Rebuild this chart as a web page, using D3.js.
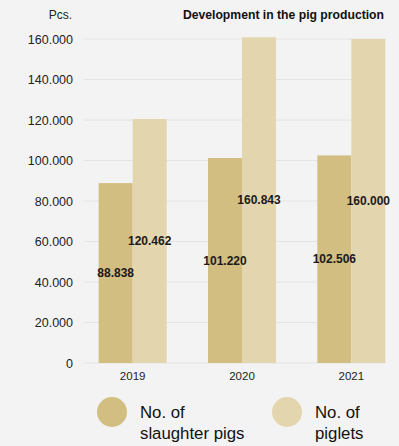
<!DOCTYPE html>
<html>
<head>
<meta charset="utf-8">
<script src="https://cdn.jsdelivr.net/npm/d3@7"></script>
<style>
  html, body { margin: 0; padding: 0; background: #f3f3f3; }
  svg { display: block; font-family: "Liberation Sans", Arial, sans-serif; }
</style>
</head>
<body>
<svg id="chart" width="399" height="446"></svg>
<script>
const years = ["2019", "2020", "2021"];
const slaughterPigs = [88838, 101220, 102506];
const piglets = [120462, 160843, 160000];
const seriesNames = [["No. of", "slaughter pigs"], ["No. of", "piglets"]];
const yTicks = [0, 20000, 40000, 60000, 80000, 100000, 120000, 140000, 160000];
const colors = ["#d1be80", "#e3d6ae"];

const fmt = v => d3.format(",")(v).replace(/,/g, ".");

const svg = d3.select("#chart");
const plotLeft = 84, plotRight = 385, plotTop = 39, plotBottom = 363;

const y = d3.scaleLinear().domain([0, 160000]).range([plotBottom, plotTop]);
const x = d3.scaleBand().domain(years).range([78, 406]).paddingInner(0.378).paddingOuter(0.189);
const sub = d3.scaleBand().domain([0, 1]).range([0, x.bandwidth()]);

// gridlines
svg.append("g").selectAll("line").data(yTicks).join("line")
  .attr("x1", plotLeft).attr("x2", plotRight)
  .attr("y1", d => y(d)).attr("y2", d => y(d))
  .attr("stroke", "#e4e4e4").attr("stroke-width", 1);

// y axis labels
const yAxis = d3.axisLeft(y).tickValues(yTicks).tickSize(0).tickPadding(0).tickFormat(fmt);
svg.append("g").attr("transform", `translate(73,0)`).call(yAxis)
  .call(g => g.select(".domain").remove())
  .call(g => g.selectAll("text").attr("font-size", 12.5).attr("fill", "#222")
    .attr("font-family", "Liberation Sans, Arial, sans-serif"));

// x axis labels
const xAxis = d3.axisBottom(x).tickSize(0).tickPadding(0);
svg.append("g").attr("transform", `translate(0,372)`).call(xAxis)
  .call(g => g.select(".domain").remove())
  .call(g => g.selectAll("text").attr("font-size", 11.5).attr("fill", "#222")
    .attr("font-family", "Liberation Sans, Arial, sans-serif"));

const rows = years.map((yr, i) => ({ year: yr, values: [slaughterPigs[i], piglets[i]] }));

const groups = svg.append("g").selectAll("g").data(rows).join("g")
  .attr("transform", d => `translate(${x(d.year)},0)`);

groups.selectAll("rect").data(d => d.values.map((v, k) => ({ v, k }))).join("rect")
  .attr("x", d => sub(d.k))
  .attr("width", sub.bandwidth())
  .attr("y", d => y(d.v))
  .attr("height", d => y(0) - y(d.v))
  .attr("fill", d => colors[d.k]);

groups.selectAll("text").data(d => d.values.map((v, k) => ({ v, k }))).join("text")
  .attr("x", d => sub(d.k) + sub.bandwidth() / 2)
  .attr("y", d => (y(d.v) + y(0)) / 2)
  .attr("dy", "0.35em")
  .attr("text-anchor", "middle")
  .attr("font-size", 12)
  .attr("font-weight", "bold")
  .attr("fill", "#1a1a1a")
  .text(d => fmt(d.v));

// unit and title
svg.append("text").attr("x", 72).attr("y", 19).attr("text-anchor", "end")
  .attr("font-size", 12).attr("fill", "#222").text("Pcs.");
svg.append("text").attr("x", 384).attr("y", 19).attr("text-anchor", "end")
  .attr("font-size", 12.2).attr("font-weight", "bold").attr("fill", "#111")
  .text("Development in the pig production");

// legend
const legendX = [112, 287];
const legend = svg.append("g").selectAll("g").data(seriesNames).join("g")
  .attr("transform", (d, i) => `translate(${legendX[i]},412)`);
legend.append("circle").attr("r", 15).attr("fill", (d, i) => colors[i]);
legend.append("text").attr("x", 28).attr("y", 6).attr("font-size", 16.8).attr("fill", "#111")
  .selectAll("tspan").data(d => d).join("tspan")
  .attr("x", 28).attr("dy", (d, i) => i === 0 ? 0 : 21).text(d => d);
</script>
</body>
</html>
